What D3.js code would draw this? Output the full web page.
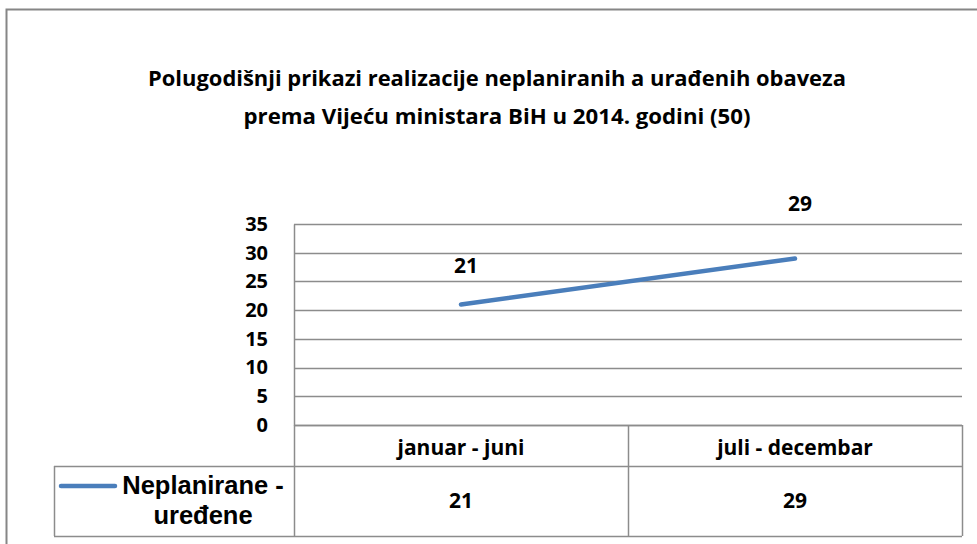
<!DOCTYPE html>
<html>
<head>
<meta charset="utf-8">
<script src="https://cdn.jsdelivr.net/npm/d3@7"></script>
<style>
  body { margin: 0; background: #fff; }
  svg { display: block; }
  text { font-family: "Open Sans", Lato, sans-serif; font-weight: bold; fill: #000; }
</style>
</head>
<body>
<div id="chart"></div>
<script>
// data
const categories = ["januar - juni", "juli - decembar"];
const seriesName = "Neplanirane - uređene";
const seriesValues = [21, 29];
const yTicks = [0, 5, 10, 15, 20, 25, 30, 35];
const titleLines = [
    "Polugodišnji prikazi realizacije neplaniranih a urađenih obaveza",
    "prema Vijeću ministara BiH u 2014. godini (50)"
];

const W = 977, H = 544;
const plot = {left: 294, right: 962, top: 224, bottom: 425};
const rowH1 = 41, rowH2 = 70;
const legendLeft = 54;
const blue = "#4A7EBB";
const gridColor = "#8c8c8c";

const svg = d3.select("#chart").append("svg")
    .attr("width", W)
    .attr("height", H);

// outer frame
svg.append("rect")
    .attr("x", 6.5).attr("y", 9.5)
    .attr("width", W + 10).attr("height", H + 10)
    .attr("fill", "none")
    .attr("stroke", "#868686")
    .attr("stroke-width", 2);

// title
svg.selectAll("text.title")
    .data(titleLines)
    .enter()
    .append("text")
    .attr("class", "title")
    .attr("x", 497)
    .attr("y", (d, i) => 86 + i * 38)
    .attr("text-anchor", "middle")
    .style("font-size", "20.5px")
    .attr("textLength", (d, i) => i === 0 ? 698 : 507)
    .attr("lengthAdjust", "spacingAndGlyphs")
    .text(d => d);

const x = d3.scaleBand()
    .domain(categories)
    .range([plot.left, plot.right]);

const y = d3.scaleLinear()
    .domain([0, 35])
    .range([plot.bottom, plot.top]);

// gridlines
svg.append("g")
    .selectAll("line")
    .data(yTicks)
    .enter()
    .append("line")
    .attr("x1", plot.left).attr("x2", plot.right)
    .attr("y1", d => Math.round(y(d)) + 0.5)
    .attr("y2", d => Math.round(y(d)) + 0.5)
    .attr("stroke", gridColor)
    .attr("stroke-width", 1.5);

// y axis
const yAxis = svg.append("g")
    .attr("transform", `translate(${plot.left},0)`)
    .call(d3.axisLeft(y).tickValues(yTicks).tickSize(0).tickPadding(26));
yAxis.select(".domain")
    .attr("stroke", gridColor)
    .attr("stroke-width", 1.5);
yAxis.selectAll("text")
    .style("font-size", "20px")
    .style("font-family", "'Open Sans', sans-serif")
    .style("font-weight", "bold");

// data table
const tableTop = plot.bottom, tableMid = plot.bottom + rowH1, tableBottom = tableMid + rowH2;
const tbl = svg.append("g")
    .attr("stroke", gridColor)
    .attr("stroke-width", 1.5)
    .attr("fill", "none");
tbl.append("line").attr("x1", plot.left).attr("x2", plot.right).attr("y1", tableTop + 0.5).attr("y2", tableTop + 0.5);
tbl.append("line").attr("x1", legendLeft).attr("x2", plot.right).attr("y1", tableMid + 0.5).attr("y2", tableMid + 0.5);
tbl.append("line").attr("x1", legendLeft).attr("x2", plot.right).attr("y1", tableBottom + 0.5).attr("y2", tableBottom + 0.5);
tbl.append("line").attr("x1", legendLeft + 0.5).attr("x2", legendLeft + 0.5).attr("y1", tableMid).attr("y2", tableBottom);
tbl.selectAll("line.col")
    .data(categories)
    .enter()
    .append("line")
    .attr("class", "col")
    .attr("x1", d => x(d) + x.bandwidth() + 0.5)
    .attr("x2", d => x(d) + x.bandwidth() + 0.5)
    .attr("y1", tableTop).attr("y2", tableBottom);
tbl.append("line").attr("x1", plot.left + 0.5).attr("x2", plot.left + 0.5).attr("y1", tableTop).attr("y2", tableBottom);

svg.selectAll("text.cat")
    .data(categories)
    .enter()
    .append("text")
    .attr("class", "cat")
    .attr("x", d => x(d) + x.bandwidth() / 2)
    .attr("y", tableTop + 30)
    .attr("text-anchor", "middle")
    .style("font-size", "21px")
    .text(d => d);

svg.selectAll("text.cell")
    .data(seriesValues)
    .enter()
    .append("text")
    .attr("class", "cell")
    .attr("x", (d, i) => x(categories[i]) + x.bandwidth() / 2)
    .attr("y", tableMid + 42)
    .attr("text-anchor", "middle")
    .style("font-size", "21px")
    .text(d => d);

// legend key
svg.append("line")
    .attr("x1", 61).attr("x2", 115)
    .attr("y1", 486).attr("y2", 486)
    .attr("stroke", blue)
    .attr("stroke-width", 4.5)
    .attr("stroke-linecap", "round");
const legendWords = ["Neplanirane -", "uređene"];
svg.selectAll("text.leg")
    .data(legendWords)
    .enter()
    .append("text")
    .attr("class", "leg")
    .attr("x", 203)
    .attr("y", (d, i) => 494 + i * 30)
    .attr("text-anchor", "middle")
    .style("font-family", "'Liberation Sans', Arial, sans-serif")
    .style("font-size", "25.5px")
    .text(d => d);

// line series
const pts = seriesValues.map((v, i) => ({cat: categories[i], v}));
const line = d3.line()
    .x(d => x(d.cat) + x.bandwidth() / 2)
    .y(d => y(d.v));

svg.append("path")
    .datum(pts)
    .attr("fill", "none")
    .attr("stroke", blue)
    .attr("stroke-width", 4.5)
    .attr("stroke-linecap", "round")
    .attr("d", line);

// data labels (Excel put them at slightly different heights)
const labelOffsets = [31, 47];
svg.selectAll("text.dl")
    .data(pts)
    .enter()
    .append("text")
    .attr("class", "dl")
    .attr("x", d => x(d.cat) + x.bandwidth() / 2 + 5)
    .attr("y", (d, i) => y(d.v) - labelOffsets[i])
    .attr("text-anchor", "middle")
    .style("font-size", "21px")
    .text(d => d.v);
</script>
</body>
</html>
